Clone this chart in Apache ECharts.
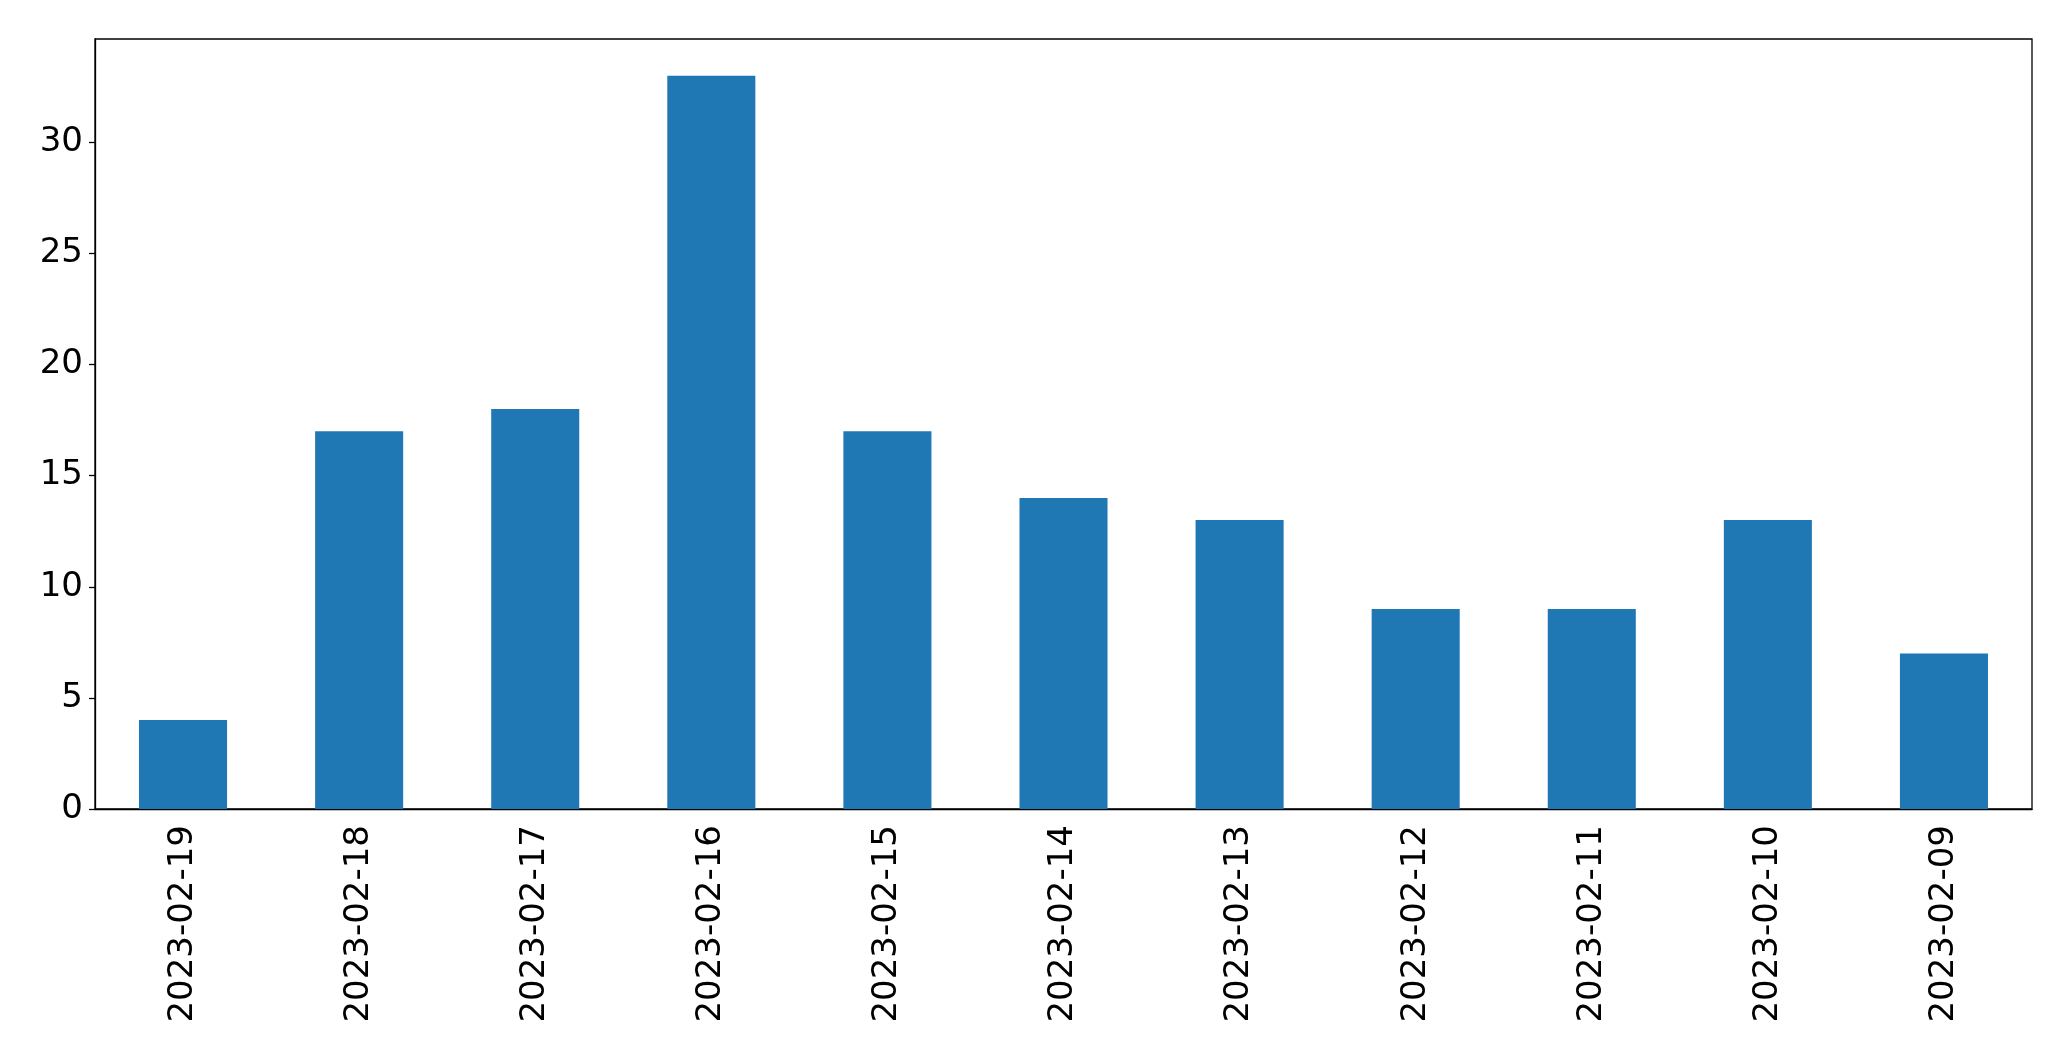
<!DOCTYPE html>
<html>
<head>
<meta charset="utf-8">
<script src="https://cdn.jsdelivr.net/npm/echarts@6/dist/echarts.min.js"></script>
<style>html,body{margin:0;padding:0;background:#fff}#c{width:2071px;height:1061px}</style>
</head>
<body>
<div id="c"></div>
<script>
var categories = ["2023-02-19","2023-02-18","2023-02-17","2023-02-16","2023-02-15","2023-02-14","2023-02-13","2023-02-12","2023-02-11","2023-02-10","2023-02-09"];
var values = [4,17,18,33,17,14,13,9,9,13,7];
var yTicks = [0,5,10,15,20,25,30];

var chart = echarts.init(document.getElementById('c'), null, {renderer:'canvas'});
chart.setOption({
  animation: false,
  backgroundColor: '#ffffff',
  grid: {left: 95, right: 39, top: 39, bottom: 252, show: true, borderColor: '#000', borderWidth: 1.3, backgroundColor: 'transparent'},
  xAxis: {
    type: 'category',
    data: categories,
    axisLine: {lineStyle: {color: '#000', width: 1.3}},
    axisTick: {alignWithLabel: true, length: 6, lineStyle: {color: '#000', width: 1.3}},
    axisLabel: {rotate: 90, margin: 16, color: '#000', fontSize: 34, fontFamily: 'DejaVu Sans', interval: 0}
  },
  yAxis: {
    type: 'value',
    min: 0,
    max: 34.65,
    interval: 5,
    splitLine: {show: false},
    axisLine: {show: true, lineStyle: {color: '#000', width: 1.3}},
    axisTick: {show: true, length: 6, customValues: yTicks, lineStyle: {color: '#000', width: 1.3}},
    axisLabel: {color: '#000', fontSize: 34, fontFamily: 'DejaVu Sans', margin: 12, customValues: yTicks}
  },
  series: [{
    type: 'bar',
    data: values,
    barWidth: '50%',
    itemStyle: {color: '#1f77b4'}
  }]
});
</script>
</body>
</html>
